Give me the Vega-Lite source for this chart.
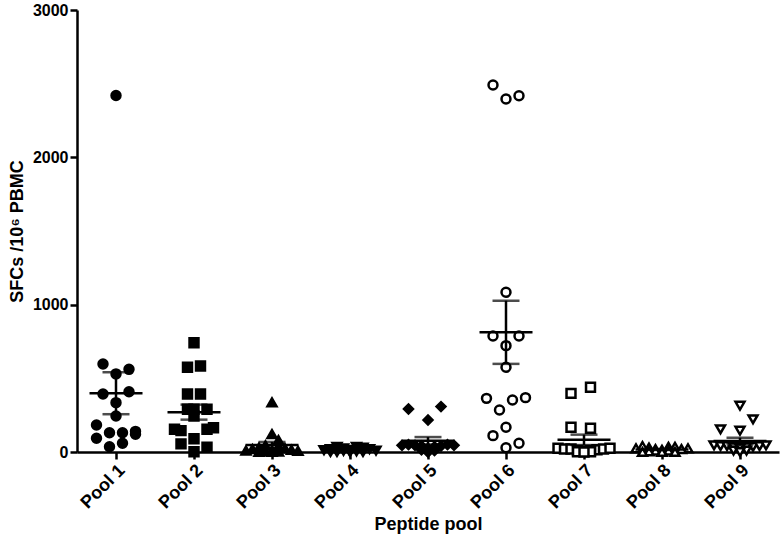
{
  "$schema": "https://vega.github.io/schema/vega-lite/v6.json",
  "autosize": {"type": "none"},
  "padding": {"left": 77, "top": 10, "right": 4, "bottom": 88},
  "width": 702,
  "height": 442,
  "background": "white",
  "config": {
    "view": {"stroke": null},
    "font": "Liberation Sans",
    "axis": {
      "domainColor": "black",
      "domainWidth": 2.5,
      "tickColor": "black",
      "tickWidth": 2.5,
      "tickSize": 7,
      "grid": false,
      "labelColor": "black",
      "labelFont": "Liberation Sans",
      "labelFontSize": 16,
      "labelFontWeight": "bold",
      "titleColor": "black",
      "titleFont": "Liberation Sans",
      "titleFontSize": 18,
      "titleFontWeight": "bold"
    }
  },
  "data": {
    "values": [
      {"pool": "Pool 1", "v": 2420, "col": 0},
      {"pool": "Pool 1", "v": 597, "col": -2},
      {"pool": "Pool 1", "v": 561, "col": 2},
      {"pool": "Pool 1", "v": 530, "col": 0},
      {"pool": "Pool 1", "v": 394, "col": -2},
      {"pool": "Pool 1", "v": 409, "col": 2},
      {"pool": "Pool 1", "v": 335, "col": 0},
      {"pool": "Pool 1", "v": 244, "col": 0},
      {"pool": "Pool 1", "v": 183, "col": -3},
      {"pool": "Pool 1", "v": 93, "col": -3},
      {"pool": "Pool 1", "v": 131, "col": -1},
      {"pool": "Pool 1", "v": 131, "col": 1},
      {"pool": "Pool 1", "v": 140, "col": 3},
      {"pool": "Pool 1", "v": 120, "col": 3},
      {"pool": "Pool 1", "v": 36, "col": -1},
      {"pool": "Pool 1", "v": 59, "col": 1},

      {"pool": "Pool 2", "v": 742, "col": 0},
      {"pool": "Pool 2", "v": 575, "col": -1},
      {"pool": "Pool 2", "v": 584, "col": 1},
      {"pool": "Pool 2", "v": 394, "col": -1},
      {"pool": "Pool 2", "v": 394, "col": 1},
      {"pool": "Pool 2", "v": 290, "col": -1},
      {"pool": "Pool 2", "v": 290, "col": 0},
      {"pool": "Pool 2", "v": 290, "col": 2},
      {"pool": "Pool 2", "v": 244, "col": 0},
      {"pool": "Pool 2", "v": 154, "col": -3},
      {"pool": "Pool 2", "v": 145, "col": -2},
      {"pool": "Pool 2", "v": 154, "col": 2},
      {"pool": "Pool 2", "v": 165, "col": 3},
      {"pool": "Pool 2", "v": 90, "col": 0},
      {"pool": "Pool 2", "v": 55, "col": -2},
      {"pool": "Pool 2", "v": 32, "col": 2},
      {"pool": "Pool 2", "v": 2, "col": 0},

      {"pool": "Pool 3", "v": 337, "col": 0},
      {"pool": "Pool 3", "v": 122, "col": 0},
      {"pool": "Pool 3", "v": 81, "col": 1},
      {"pool": "Pool 3", "v": 45, "col": -1},
      {"pool": "Pool 3", "v": 40, "col": 1},
      {"pool": "Pool 3", "v": 30, "col": -2},
      {"pool": "Pool 3", "v": 25, "col": 2},
      {"pool": "Pool 3", "v": 20, "col": -3},
      {"pool": "Pool 3", "v": 15, "col": 3},
      {"pool": "Pool 3", "v": 12, "col": 0},
      {"pool": "Pool 3", "v": 10, "col": -4},
      {"pool": "Pool 3", "v": 8, "col": 4},
      {"pool": "Pool 3", "v": 5, "col": -1},
      {"pool": "Pool 3", "v": 3, "col": 1},
      {"pool": "Pool 3", "v": 0, "col": 0},
      {"pool": "Pool 3", "v": 0, "col": -2},

      {"pool": "Pool 4", "v": 35, "col": -2},
      {"pool": "Pool 4", "v": 35, "col": 1},
      {"pool": "Pool 4", "v": 30, "col": 2},
      {"pool": "Pool 4", "v": 25, "col": -1},
      {"pool": "Pool 4", "v": 20, "col": -3},
      {"pool": "Pool 4", "v": 20, "col": 3},
      {"pool": "Pool 4", "v": 15, "col": 0},
      {"pool": "Pool 4", "v": 12, "col": -4},
      {"pool": "Pool 4", "v": 10, "col": 4},
      {"pool": "Pool 4", "v": 8, "col": -1},
      {"pool": "Pool 4", "v": 5, "col": 1},
      {"pool": "Pool 4", "v": 3, "col": 0},
      {"pool": "Pool 4", "v": 0, "col": -2},
      {"pool": "Pool 4", "v": 0, "col": 2},
      {"pool": "Pool 4", "v": 0, "col": 0},
      {"pool": "Pool 4", "v": 0, "col": -3},

      {"pool": "Pool 5", "v": 292, "col": -3},
      {"pool": "Pool 5", "v": 308, "col": 2},
      {"pool": "Pool 5", "v": 217, "col": 0},
      {"pool": "Pool 5", "v": 45, "col": -4},
      {"pool": "Pool 5", "v": 50, "col": -3},
      {"pool": "Pool 5", "v": 45, "col": -2},
      {"pool": "Pool 5", "v": 40, "col": 2},
      {"pool": "Pool 5", "v": 50, "col": 3},
      {"pool": "Pool 5", "v": 45, "col": 4},
      {"pool": "Pool 5", "v": 40, "col": -1},
      {"pool": "Pool 5", "v": 35, "col": 1},
      {"pool": "Pool 5", "v": 25, "col": 0},
      {"pool": "Pool 5", "v": 15, "col": -1},
      {"pool": "Pool 5", "v": 10, "col": 1},
      {"pool": "Pool 5", "v": 5, "col": 0},
      {"pool": "Pool 5", "v": 0, "col": 0},

      {"pool": "Pool 6", "v": 2491, "col": -2},
      {"pool": "Pool 6", "v": 2396, "col": 0},
      {"pool": "Pool 6", "v": 2418, "col": 2},
      {"pool": "Pool 6", "v": 1084, "col": 0},
      {"pool": "Pool 6", "v": 787, "col": -2},
      {"pool": "Pool 6", "v": 787, "col": 2},
      {"pool": "Pool 6", "v": 722, "col": 0},
      {"pool": "Pool 6", "v": 575, "col": 0},
      {"pool": "Pool 6", "v": 364, "col": -3},
      {"pool": "Pool 6", "v": 285, "col": -1},
      {"pool": "Pool 6", "v": 353, "col": 1},
      {"pool": "Pool 6", "v": 369, "col": 3},
      {"pool": "Pool 6", "v": 111, "col": -2},
      {"pool": "Pool 6", "v": 168, "col": 0},
      {"pool": "Pool 6", "v": 59, "col": 2},
      {"pool": "Pool 6", "v": 29, "col": 0},

      {"pool": "Pool 7", "v": 398, "col": -2},
      {"pool": "Pool 7", "v": 439, "col": 1},
      {"pool": "Pool 7", "v": 168, "col": -2},
      {"pool": "Pool 7", "v": 161, "col": 1},
      {"pool": "Pool 7", "v": 25, "col": -4},
      {"pool": "Pool 7", "v": 20, "col": -3},
      {"pool": "Pool 7", "v": 20, "col": -2},
      {"pool": "Pool 7", "v": 15, "col": 2},
      {"pool": "Pool 7", "v": 20, "col": 3},
      {"pool": "Pool 7", "v": 25, "col": 4},
      {"pool": "Pool 7", "v": 10, "col": -1},
      {"pool": "Pool 7", "v": 10, "col": 1},
      {"pool": "Pool 7", "v": 5, "col": 0},
      {"pool": "Pool 7", "v": 2, "col": -1},
      {"pool": "Pool 7", "v": 2, "col": 1},
      {"pool": "Pool 7", "v": 0, "col": 0},

      {"pool": "Pool 8", "v": 40, "col": -3},
      {"pool": "Pool 8", "v": 35, "col": 1},
      {"pool": "Pool 8", "v": 35, "col": 2},
      {"pool": "Pool 8", "v": 30, "col": -2},
      {"pool": "Pool 8", "v": 25, "col": -4},
      {"pool": "Pool 8", "v": 25, "col": 4},
      {"pool": "Pool 8", "v": 20, "col": -1},
      {"pool": "Pool 8", "v": 20, "col": 3},
      {"pool": "Pool 8", "v": 15, "col": 0},
      {"pool": "Pool 8", "v": 10, "col": -1},
      {"pool": "Pool 8", "v": 10, "col": 1},
      {"pool": "Pool 8", "v": 5, "col": 0},
      {"pool": "Pool 8", "v": 5, "col": -2},
      {"pool": "Pool 8", "v": 0, "col": 0},
      {"pool": "Pool 8", "v": 0, "col": 2},
      {"pool": "Pool 8", "v": 0, "col": -3},

      {"pool": "Pool 9", "v": 314, "col": 0},
      {"pool": "Pool 9", "v": 222, "col": 2},
      {"pool": "Pool 9", "v": 154, "col": -3},
      {"pool": "Pool 9", "v": 145, "col": 0},
      {"pool": "Pool 9", "v": 45, "col": -4},
      {"pool": "Pool 9", "v": 40, "col": -3},
      {"pool": "Pool 9", "v": 40, "col": -2},
      {"pool": "Pool 9", "v": 35, "col": 2},
      {"pool": "Pool 9", "v": 40, "col": 3},
      {"pool": "Pool 9", "v": 45, "col": 4},
      {"pool": "Pool 9", "v": 35, "col": -1},
      {"pool": "Pool 9", "v": 35, "col": 1},
      {"pool": "Pool 9", "v": 25, "col": 0},
      {"pool": "Pool 9", "v": 10, "col": -1},
      {"pool": "Pool 9", "v": 10, "col": 1},
      {"pool": "Pool 9", "v": 0, "col": 0}
    ]
  },
  "encoding": {
    "x": {
      "field": "pool",
      "type": "nominal",
      "sort": ["Pool 1", "Pool 2", "Pool 3", "Pool 4", "Pool 5", "Pool 6", "Pool 7", "Pool 8", "Pool 9"],
      "scale": {"paddingInner": 0, "paddingOuter": 0},
      "axis": {"title": "Peptide pool", "labelAngle": -45, "labelFontSize": 18, "labelPadding": 2, "titlePadding": 4}
    }
  },
  "layer": [
    {
      "mark": {"type": "point", "filled": false, "opacity": 1, "size": 80, "strokeWidth": 2.5, "stroke": "black", "clip": false},
      "encoding": {
        "xOffset": {"field": "col", "type": "ordinal", "scale": {"domain": [-6, -5, -4, -3, -2, -1, 0, 1, 2, 3, 4, 5, 6], "paddingInner": 0, "paddingOuter": 0}},
        "y": {
          "field": "v",
          "type": "quantitative",
          "scale": {"domain": [0, 3000], "nice": false, "zero": true},
          "axis": {"values": [0, 1000, 2000, 3000], "format": "d", "title": "SFCs /10⁶ PBMC", "titlePadding": 6, "labelPadding": 2}
        },
        "shape": {
          "field": "pool",
          "type": "nominal",
          "scale": {
            "domain": ["Pool 1", "Pool 2", "Pool 3", "Pool 4", "Pool 5", "Pool 6", "Pool 7", "Pool 8", "Pool 9"],
            "range": ["circle", "square", "triangle-up", "triangle-down", "diamond", "circle", "square", "triangle-up", "triangle-down"]
          },
          "legend": null
        },
        "fill": {
          "field": "pool",
          "type": "nominal",
          "scale": {
            "domain": ["Pool 1", "Pool 2", "Pool 3", "Pool 4", "Pool 5", "Pool 6", "Pool 7", "Pool 8", "Pool 9"],
            "range": ["black", "black", "black", "black", "black", "white", "white", "white", "white"]
          },
          "legend": null
        }
      }
    },
    {
      "mark": {"type": "errorbar", "extent": "stderr", "ticks": {"size": 27, "thickness": 2.5, "color": "black"}, "rule": {"strokeWidth": 2.5, "color": "black"}},
      "encoding": {
        "y": {"field": "v", "type": "quantitative", "title": "SFCs /10⁶ PBMC"}
      }
    },
    {
      "mark": {"type": "tick", "size": 53, "thickness": 2.5, "color": "black", "opacity": 1},
      "encoding": {
        "y": {"field": "v", "type": "quantitative", "aggregate": "mean", "title": "SFCs /10⁶ PBMC"}
      }
    }
  ]
}
